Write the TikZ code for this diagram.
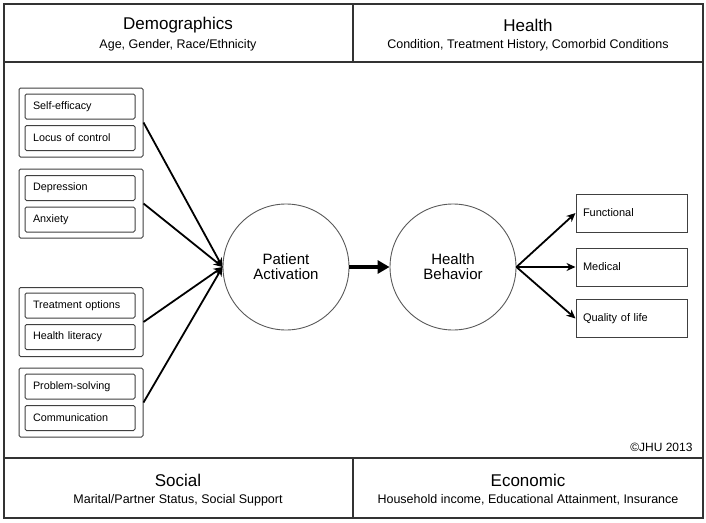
\documentclass[tikz,border=0pt]{standalone}
\usepackage{fontspec}
\setmainfont{Liberation Sans}
\usetikzlibrary{arrows.meta}
\begin{document}
\begin{tikzpicture}[x=1pt,y=-1pt,
  frame/.style={draw=black!80,line width=1.3pt},
  grp/.style={draw=black!75,line width=1pt,rounded corners=1.5pt,minimum width=124pt,minimum height=69pt,inner sep=0pt},
  itembox/.style={draw=black!75,line width=1pt,rounded corners=1.5pt,text width=94pt,align=left,inner xsep=8pt,inner ysep=0pt,minimum height=25pt,font=\fontsize{10.8}{12}\selectfont},
  outbox/.style={draw=black!75,line width=1pt,text width=97pt,align=left,inner xsep=7pt,inner ysep=0pt,minimum height=38pt,font=\fontsize{11}{13}\selectfont},
  bubble/.style={circle,draw=black!65,line width=0.9pt,minimum size=126pt,inner sep=0pt,align=center,font=\fontsize{15}{17}\selectfont},
  conn/.style={line width=1.8pt,-{Stealth[length=9pt,width=8pt]}},
  ttl/.style={font=\fontsize{17}{20}\selectfont},
  sub/.style={font=\fontsize{12.5}{15}\selectfont}]
\useasboundingbox (0,0) rectangle (706,522);
\fill[white] (0,0) rectangle (706,522);
% frame
\draw[frame] (4,4) rectangle (703,518);
\draw[frame] (4,62) -- (703,62);
\draw[frame] (4,458) -- (703,458);
\draw[frame] (353,4) -- (353,62);
\draw[frame] (353,458) -- (353,518);
% band texts
\node[ttl] (demT) at (178,25) {Demographics};
\node[sub] (demS) at (178,45) {Age, Gender, Race/Ethnicity};
\node[ttl] (heaT) at (528,25) {Health};
\node[sub] (heaS) at (528,45) {Condition, Treatment History, Comorbid Conditions};
\node[ttl] (socT) at (178,480) {Social};
\node[sub] (socS) at (178,500) {Marital/Partner Status, Social Support};
\node[ttl] (ecoT) at (528,480) {Economic};
\node[sub] (ecoS) at (528,500) {Household income, Educational Attainment, Insurance};
% groups
\node[grp] (g1) at (81,122.5) {};
\node[grp] (g2) at (81,203.5) {};
\node[grp] (g3) at (81,322) {};
\node[grp] (g4) at (81,402.5) {};
\node[itembox] (se) at (80,106.5) {Self-efficacy};
\node[itembox] (lc) at (80,138) {Locus of control};
\node[itembox] (dp) at (80,188) {Depression};
\node[itembox] (ax) at (80,219.5) {Anxiety};
\node[itembox] (to) at (80,305.5) {Treatment options};
\node[itembox] (hl) at (80,337) {Health literacy};
\node[itembox] (ps) at (80,386.5) {Problem-solving};
\node[itembox] (cm) at (80,418) {Communication};
% circles
\node[bubble] (pa) at (286,267) {Patient\\[-2pt]Activation};
\node[bubble] (hb) at (453,267) {Health\\[-2pt]Behavior};
% outputs
\node[outbox] (fn) at (631.5,213) {Functional};
\node[outbox] (md) at (631.5,267) {Medical};
\node[outbox] (ql) at (631.5,318.5) {Quality of life};
% connectors
\draw[conn] (g1.east) -- (pa.west);
\draw[conn] (g2.east) -- (pa.west);
\draw[conn] (g3.east) -- (pa.west);
\draw[conn] (g4.east) -- (pa.west);
\draw[line width=4pt,-{Triangle[length=12pt,width=13pt]}] (pa.east) -- (hb.west);
\draw[conn] (hb.east) -- (fn.west);
\draw[conn] (hb.east) -- (md.west);
\draw[conn] (hb.east) -- (ql.west);
% copyright
\node[anchor=east,font=\fontsize{12}{14}\selectfont] (cr) at (696,447) {©JHU 2013};
\end{tikzpicture}
\end{document}
